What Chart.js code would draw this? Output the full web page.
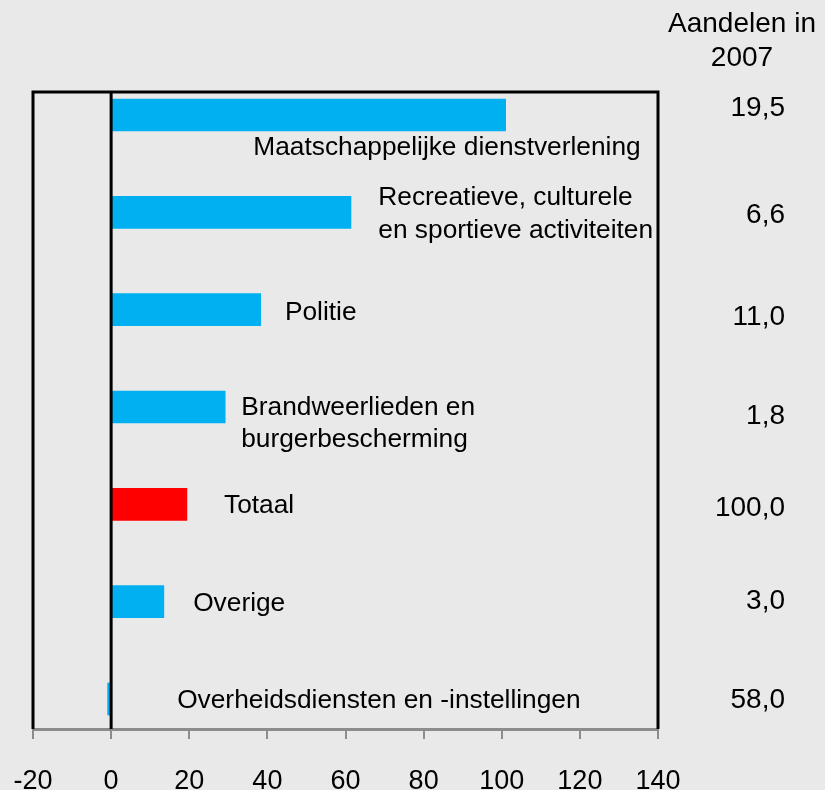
<!DOCTYPE html>
<html>
<head>
<meta charset="utf-8">
<script src="https://cdn.jsdelivr.net/npm/chart.js@4.4.0/dist/chart.umd.min.js"></script>
<style>
  html, body { margin: 0; padding: 0; background: #e9e9e9; }
  #wrap { width: 825px; height: 790px; }
</style>
</head>
<body>
<div id="wrap"><canvas id="chart"></canvas></div>
<script>
// sectors, top to bottom
const categories = [
  ['Maatschappelijke dienstverlening'],
  ['Recreatieve, culturele', 'en sportieve activiteiten'],
  ['Politie'],
  ['Brandweerlieden en', 'burgerbescherming'],
  ['Totaal'],
  ['Overige'],
  ['Overheidsdiensten en -instellingen']
];
const values = [101, 61.4, 38.3, 29.2, 19.4, 13.5, -0.9];
const shares = ['19,5', '6,6', '11,0', '1,8', '100,0', '3,0', '58,0'];
const xTicks = [-20, 0, 20, 40, 60, 80, 100, 120, 140];

// label placement (x in data units, y offset in px from bar centre)
const labelX = [36.4, 68.4, 44.5, 33.3, 28.9, 21, 16.9];
const labelDy = [[33], [-15, 18], [3], [1, 33], [1], [2], [2]];
const shareDy = [-7, 3, 8, 9, 4, 0, 1];

const blue = '#00b0f0';
const red = '#ff0000';
const font = '"Liberation Sans", Arial, sans-serif';

const barColors = categories.map(c => c[0] === 'Totaal' ? red : blue);

const overlay = {
  id: 'overlay',
  afterDatasetsDraw(chart) {
    const ctx = chart.ctx;
    const a = chart.chartArea;
    const xs = chart.scales.x;
    const ys = chart.scales.y;
    ctx.save();
    // zero line
    const x0 = xs.getPixelForValue(0);
    ctx.strokeStyle = '#000';
    ctx.lineWidth = 3;
    ctx.beginPath();
    ctx.moveTo(x0, a.top);
    ctx.lineTo(x0, a.bottom);
    ctx.stroke();
    // frame: left, top, right
    ctx.beginPath();
    ctx.moveTo(a.left, a.bottom);
    ctx.lineTo(a.left, a.top);
    ctx.lineTo(a.right, a.top);
    ctx.lineTo(a.right, a.bottom);
    ctx.stroke();

    ctx.fillStyle = '#000';
    ctx.textBaseline = 'middle';
    // sector labels + shares column
    categories.forEach((lines, i) => {
      const cy = ys.getPixelForValue(i);
      ctx.font = '26.3px ' + font;
      ctx.textAlign = 'left';
      lines.forEach((t, j) => {
        ctx.fillText(t, xs.getPixelForValue(labelX[i]), cy + labelDy[i][j]);
      });
      ctx.font = '28px ' + font;
      ctx.textAlign = 'right';
      ctx.fillText(shares[i], a.right + 127, cy + shareDy[i]);
    });
    // header of share column
    ctx.font = '28px ' + font;
    ctx.textAlign = 'center';
    ctx.fillText('Aandelen in', a.right + 84, 24);
    ctx.fillText('2007', a.right + 84, 58);
    ctx.restore();
  }
};

new Chart(document.getElementById('chart'), {
  type: 'bar',
  data: {
    datasets: [{
      data: values.map((v, i) => ({ x: v, y: i })),
      backgroundColor: barColors,
      barThickness: 32,
      borderWidth: 0
    }]
  },
  options: {
    indexAxis: 'y',
    responsive: true,
    maintainAspectRatio: false,
    animation: false,
    layout: { padding: { left: 33, right: 167, top: 92, bottom: 0 } },
    plugins: { legend: { display: false }, tooltip: { enabled: false } },
    scales: {
      x: {
        type: 'linear',
        min: -20,
        max: 140,
        afterBuildTicks: s => { s.ticks = xTicks.map(v => ({ value: v })); },
        afterFit: s => { s.paddingLeft = 0; s.paddingRight = 0; s.height = 61; },
        grid: {
          drawOnChartArea: false,
          drawTicks: true,
          tickLength: 10,
          color: '#8c8c8c',
          lineWidth: 2
        },
        border: { display: true, color: '#8c8c8c', width: 3 },
        ticks: {
          color: '#000',
          padding: 29,
          font: { family: font, size: 27, lineHeight: 1.0 },
          maxRotation: 0,
          callback: v => String(v)
        }
      },
      y: {
        type: 'linear',
        display: false,
        reverse: true,
        offset: false,
        min: -0.236,
        max: 6.308
      }
    }
  },
  plugins: [overlay]
});
</script>
</body>
</html>
